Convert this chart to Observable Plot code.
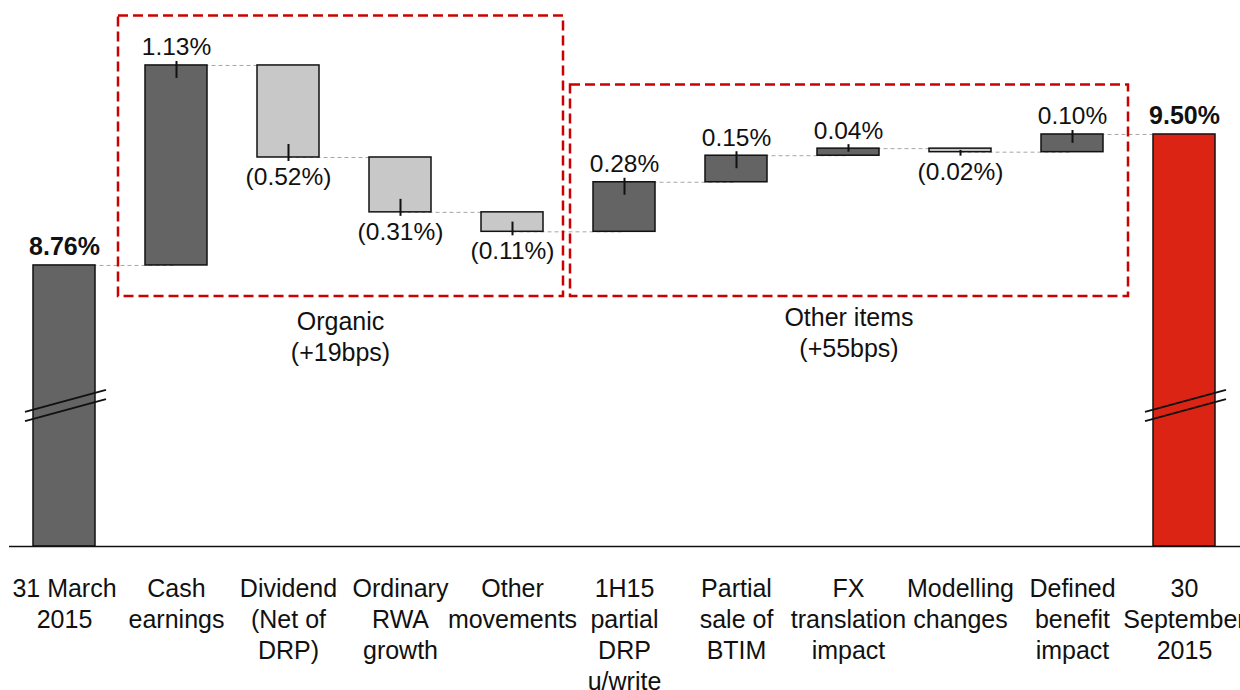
<!DOCTYPE html>
<html><head><meta charset="utf-8">
<script src="https://cdn.jsdelivr.net/npm/d3@7"></script>
<script src="https://cdn.jsdelivr.net/npm/@observablehq/plot@0.6"></script>
<style>
body{margin:0;background:#fff;}
#chart{width:1240px;height:690px;overflow:hidden;}
</style></head><body><div id="chart"></div>
<script>
// ---- data ----
const categories = ["31 March\n2015","Cash\nearnings","Dividend\n(Net of\nDRP)","Ordinary\nRWA\ngrowth","Other\nmovements","1H15\npartial\nDRP\nu/write","Partial\nsale of\nBTIM","FX\ntranslation\nimpact","Modelling\nchanges","Defined\nbenefit\nimpact","30\nSeptember\n2015"];
const kinds = ["start","delta","delta","delta","delta","delta","delta","delta","delta","delta","end"];
const deltas = [null, 1.13, -0.52, -0.31, -0.11, 0.28, 0.15, 0.04, -0.02, 0.10, null];
const startValue = 8.76;
const endValue = 9.50;
const groupLabels = ["Organic\n(+19bps)", "Other items\n(+55bps)"];
const groupFirst = ["Cash\nearnings", "1H15\npartial\nDRP\nu/write"];
const groupLast = ["Other\nmovements", "Defined\nbenefit\nimpact"];
const axisMin = 7.172, axisMax = 10.257, breakValue = 7.966;

// ---- derived rows ----
const C_DARK = "#646464", C_LIGHT = "#c8c8c8", C_RED = "#dc2414";
let level = 0;
const rows = categories.map((cat, i) => {
  const k = kinds[i];
  if (k === "start") { level = startValue; return {cat, kind:k, y1: axisMin, y2: startValue, end: startValue, fill: C_DARK}; }
  if (k === "end") { level = endValue; return {cat, kind:k, y1: axisMin, y2: endValue, end: endValue, fill: C_RED}; }
  const d = deltas[i], from = level; level = +(level + d).toFixed(4);
  return {cat, kind:k, d, y1: from, y2: level, end: level, fill: d >= 0 ? C_DARK : C_LIGHT};
});
const connectors = rows.slice(0, -1).map((r, i) => ({a: r.cat, b: rows[i+1].cat, v: r.end}));
const deltaRows = rows.filter(r => r.kind === "delta");
const totalRows = rows.filter(r => r.kind !== "delta");
const PX = 177; // approx pixels per unit, for tick geometry
const ticks = deltaRows.map(r => {
  const s = Math.sign(r.d), inn = Math.min(13/PX, Math.abs(r.d)/2);
  return {cat: r.cat, ya: r.end + s*4/PX, yb: r.end - s*inn};
});
const fmt = d => d >= 0 ? d.toFixed(2) + "%" : "(" + Math.abs(d).toFixed(2) + "%)";

const groups = groupLabels.map((label, gi) => {
  const i0 = categories.indexOf(groupFirst[gi]), i1 = categories.indexOf(groupLast[gi]);
  const seg = rows.slice(i0, i1 + 1);
  const top = d3.max(seg, r => Math.max(r.y1, r.y2));
  return {label, first: groupFirst[gi], last: groupLast[gi], top};
});

function annotations(index, scales) {
  const sx = scales.x, sy = scales.y;
  const bw = typeof sx.bandwidth === "function" ? sx.bandwidth() : 0;
  const step = sx(categories[1]) - sx(categories[0]);
  const center = c => sx(c) + bw / 2;
  const g = d3.create("svg:g");
  const boxBottom = sy(startValue - 0.175);
  groups.forEach((gr, gi) => {
    let x1 = center(gr.first) - step / 2, x2 = center(gr.last) + step / 2;
    if (gi === 0) { x1 -= 2; x2 -= 5; } else x1 += 2;
    const y1 = sy(gr.top + 0.28);
    g.append("rect").attr("x", x1).attr("y", y1).attr("width", x2 - x1).attr("height", boxBottom - y1)
      .attr("fill", "none").attr("stroke", "#cc0000").attr("stroke-width", 2.5).attr("stroke-dasharray", "10,5");
    const t = g.append("text").attr("x", (x1 + x2) / 2).attr("y", boxBottom + (gi === 0 ? 34 : 30))
      .attr("text-anchor", "middle").attr("font-size", 25).attr("fill", "#111");
    gr.label.split("\n").forEach((ln, li) => t.append("tspan").attr("x", (x1 + x2) / 2).attr("dy", li ? 31 : 0).text(ln));
  });
  totalRows.forEach(r => {
    const cx = center(r.cat), ym = sy(breakValue);
    [-4.65, 4.65].forEach(s => {
      g.append("line").attr("x1", cx - 39).attr("y1", ym + 11 + s).attr("x2", cx + 42).attr("y2", ym - 11 + s)
        .attr("stroke", "#111").attr("stroke-width", 1.8);
    });
  });
  return g.node();
}

const chart = Plot.plot({
  width: 1240, height: 690,
  marginTop: 0, marginBottom: 144, marginLeft: 9, marginRight: 0,
  style: {fontFamily: "'Liberation Sans', Arial, sans-serif", background: "#fff", color: "#111"},
  x: {domain: categories, paddingInner: 0.445, paddingOuter: 0.21},
  y: {domain: [axisMin, axisMax], axis: null},
  marks: [
    Plot.link(connectors, {x1: "a", x2: "b", y1: "v", y2: "v", stroke: "#a6a6a6", strokeWidth: 1, strokeDasharray: "4,3"}),
    Plot.barY(rows, {x: "cat", y1: "y1", y2: "y2", fill: "fill", stroke: "#111", strokeWidth: 1.5}),
    Plot.ruleX(ticks, {x: "cat", y1: "ya", y2: "yb", stroke: "#111", strokeWidth: 2}),
    Plot.ruleY([axisMin], {stroke: "#111", strokeWidth: 1.5}),
    Plot.text(deltaRows.filter(r => r.d >= 0), {x: "cat", y: "end", text: r => fmt(r.d), lineAnchor: "bottom", dy: -10, fontSize: 24.5, fill: "#111"}),
    Plot.text(deltaRows.filter(r => r.d < 0), {x: "cat", y: "end", text: r => fmt(r.d), lineAnchor: "top", dy: 10, fontSize: 24.5, fill: "#111"}),
    Plot.text(totalRows, {x: "cat", y: "end", text: r => r.end.toFixed(2) + "%", lineAnchor: "bottom", dy: -10, fontSize: 25, fontWeight: "bold", fill: "#111"}),
    annotations,
    Plot.axisX({anchor: "bottom", tickSize: 0, tickPadding: 28, fontSize: 25, lineHeight: 1.25, label: null, tickFormat: d => d, fill: "#111"})
  ]
});
document.getElementById("chart").appendChild(chart);
</script>
</body></html>
